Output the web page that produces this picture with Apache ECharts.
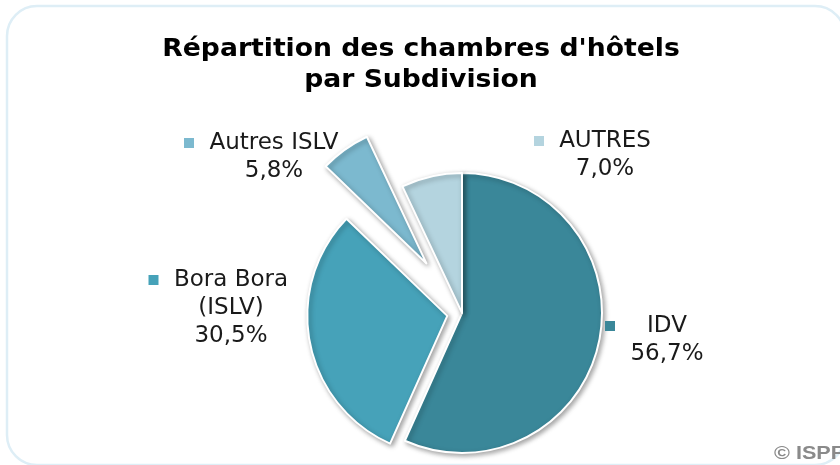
<!DOCTYPE html>
<html>
<head>
<meta charset="utf-8">
<script src="https://cdn.jsdelivr.net/npm/echarts@6/dist/echarts.min.js"></script>
<style>
html,body{margin:0;padding:0;background:#fff;}
#chart{width:840px;height:465px;}
</style>
</head>
<body>
<div id="chart"></div>
<script>
// Data
const categories = ['IDV', 'Bora Bora\n(ISLV)', 'Autres ISLV', 'AUTRES'];
const shares = [56.7, 30.5, 5.8, 7.0];
const colors = ['#3a8799', '#46a2b9', '#7cb9cf', '#b4d4df'];
const titleLines = ['Répartition des chambres d\'hôtels', 'par Subdivision'];
const sourceText = '© ISPF';

// Exploded slices: index -> pull-out distance (px)
const explode = { 1: 15, 2: 61 };

// Label anchor points (block centres) for each category
const labelPos = [[667, 340], [231, 308], [274, 157], [605, 155]];

const fmt = v => v.toFixed(1).replace('.', ',') + '%';
const LABEL_FONT = '23px "DejaVu Sans"';

const measureCtx = document.createElement('canvas').getContext('2d');
measureCtx.font = LABEL_FONT;
const textW = s => Math.ceil(measureCtx.measureText(s).width);

const rich = {
  g: { width: 15 },
  pad: { width: 25 },
  n: { fontFamily: 'DejaVu Sans', fontSize: 23, color: '#1a1a1a', lineHeight: 28 },
  v: { fontFamily: 'DejaVu Sans', fontSize: 23, color: '#1a1a1a', lineHeight: 28 }
};
colors.forEach((c, i) => {
  rich['sq' + i] = { width: 10, height: 10, backgroundColor: c };
  const lines = categories[i].split('\n').concat([fmt(shares[i])]);
  const maxW = Math.max.apply(null, lines.map(textW));
  rich['h' + i] = { fontFamily: 'DejaVu Sans', fontSize: 23, color: '#1a1a1a', lineHeight: 28, width: maxW, align: 'center' };
});

const baseItem = (i) => ({
  color: colors[i],
  borderColor: '#ffffff',
  borderWidth: 2,
  shadowBlur: 5,
  shadowColor: 'rgba(0,0,0,0.35)',
  shadowOffsetX: 2,
  shadowOffsetY: 2
});
const hidden = { color: 'rgba(0,0,0,0)', borderWidth: 0, shadowBlur: 0, shadowColor: 'rgba(0,0,0,0)' };

function labelText(p) {
  const lines = p.name.split('\n');
  const out = ['{sq' + p.dataIndex + '|}{g|}{h' + p.dataIndex + '|' + lines[0] + '}{pad|}'];
  for (let k = 1; k < lines.length; k++) out.push('{n|' + lines[k] + '}');
  out.push('{v|' + fmt(p.value) + '}');
  return out.join('\n');
}

const pieBase = {
  type: 'pie',
  center: [462, 313],
  radius: 140,
  startAngle: 90,
  clockwise: true,
  silent: true,
  avoidLabelOverlap: false,
  labelLine: { show: false }
};

// Main series: non-exploded slices + all labels
const mainSeries = Object.assign({}, pieBase, {
  data: categories.map((name, i) => ({
    name: name,
    value: shares[i],
    itemStyle: explode[i] !== undefined ? hidden : baseItem(i)
  })),
  label: {
    show: true,
    position: 'outside',
    formatter: labelText,
    rich: rich,
    align: 'center'
  },
  labelLayout: p => ({
    x: labelPos[p.dataIndex][0],
    y: labelPos[p.dataIndex][1],
    align: 'center',
    verticalAlign: 'middle'
  })
});

// One series per exploded slice
const explodedSeries = Object.keys(explode).map(k => {
  const idx = +k;
  return Object.assign({}, pieBase, {
    selectedMode: 'multiple',
    selectedOffset: explode[k],
    data: categories.map((name, i) => ({
      name: name,
      value: shares[i],
      selected: i === idx,
      itemStyle: i === idx ? baseItem(i) : hidden
    })),
    label: { show: false }
  });
});

const chart = echarts.init(document.getElementById('chart'), null, { renderer: 'canvas' });
chart.setOption({
  backgroundColor: '#ffffff',
  animation: false,
  graphic: [
    {
      type: 'rect',
      shape: { x: 7, y: 6, width: 838, height: 459, r: 30 },
      style: { fill: 'none', stroke: '#deeef6', lineWidth: 2.5 },
      z: -1
    },
    {
      type: 'text',
      x: 421,
      y: 34,
      scaleX: 1.11,
      style: {
        text: titleLines.join('\n'),
        fontFamily: 'DejaVu Sans',
        fontWeight: 'bold',
        fontSize: 24,
        lineHeight: 31,
        fill: '#000',
        align: 'center',
        verticalAlign: 'top'
      }
    },
    {
      type: 'text',
      x: 774,
      y: 445,
      scaleX: 1.2,
      style: { text: sourceText, fontFamily: 'Liberation Sans', fontWeight: 'bold', fontSize: 18, fill: '#8a8a8a' }
    }
  ],
  series: [mainSeries].concat(explodedSeries)
});
</script>
</body>
</html>
